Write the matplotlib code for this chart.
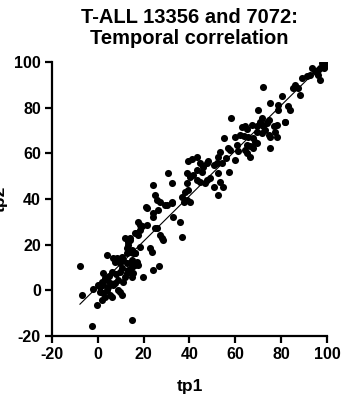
import numpy as np
import matplotlib
matplotlib.use("Agg")
import matplotlib.pyplot as plt

TITLE = "T-ALL 13356 and 7072:\nTemporal correlation"
X_LABEL = "tp1"
Y_LABEL = "tp2"
TICKS = [-20, 0, 20, 40, 60, 80, 100]

# points (tp1, tp2)
tp1 = [
    99.2, 97.7, 98.6, 97.0, 98.5, 96.3, 94.8, 93.4, 92.6, 96.3, 97.0, 91.2, 89.0, 86.1, 85.4,
    87.5, 88.3, 80.3, 83.2, 83.9, 81.7, 95.5, 99.0,
    72.3, 75.2, 78.8, 70.1, 78.8, 78.1, 75.2, 76.7, 73.7, 70.8, 72.3, 74.5, 71.5, 77.4, 78.1,
    75.2, 74.9, 73.0, 71.6, 81.8,
    69.4, 67.2, 64.3, 63.1, 65.0, 69.4, 65.7, 67.9, 68.6, 63.6, 62.1, 60.9, 65.0, 66.5, 69.4,
    67.9, 65.0, 66.5, 64.3, 61.1, 59.9, 59.9,
    58.2, 55.1, 57.0, 53.4, 52.6, 57.3, 51.9, 50.5, 52.6, 53.4, 50.5, 54.8, 52.6, 57.7, 54.1, 56.0,
    48.3, 47.5, 49.0, 46.8, 44.6, 43.2, 46.1, 45.4, 41.0, 43.2, 40.3, 41.7, 43.2, 44.6, 40.3, 47.5,
    39.5, 38.8, 30.8, 32.3, 38.8, 39.5, 38.1, 38.8, 36.6, 37.4, 32.3, 33.0, 35.9, 36.6, 32.3, 30.1,
    24.3, 25.0, 25.7, 27.2, 29.4, 21.3, 24.3, 24.3, 21.3, 25.0, 27.2, 27.9, 28.6, 22.8, 23.5,
    26.4, 21.1, 25.7, 24.3, 26.9,
    17.7, 18.4, 16.3, 17.7, 18.4, 11.9, 14.1, 13.3, 12.6, 14.1, 15.5, 18.4, 19.2, 17.0, 14.1,
    13.3, 14.8, 16.3, 11.2, 14.8, 17.0, 12.6, 14.8, 14.8, 19.6, 10.4, 12.6, 13.3, 14.8, 16.3,
    15.5, 14.1, 14.8, 17.7, 10.4, 12.6, 16.3, 11.2, 11.9, 10.4,
    9.0, 9.7, 7.5, 9.0, 9.7, 8.2, 7.5, 9.7, 9.0, 6.8, 3.9, 2.4, 3.1, 1.7, 3.9, 5.3, 2.4, 1.0,
    4.6, 6.8, 3.9, 1.0, 2.4, 1.7, 5.3, 3.1, 6.1, -0.5, -2.0, 0.2, 6.0, 8.0, 5.0,
    -7.8, -7.1, -2.7,
]
tp2 = [
    100.0, 99.5, 99.0, 97.3, 97.3, 96.5, 95.8, 97.3, 94.3, 94.3, 92.1, 93.6, 92.9, 90.0, 88.5,
    88.5, 85.6, 84.9, 80.5, 79.0, 73.9, 95.0, 98.0,
    89.2, 81.9, 81.2, 79.0, 79.0, 72.4, 67.3, 72.0, 73.4, 73.9, 72.0, 74.5, 75.5, 69.5, 67.3,
    62.2, 68.0, 70.2, 68.8, 73.9,
    72.0, 72.5, 72.0, 71.4, 70.5, 69.5, 67.3, 66.6, 65.1, 67.6, 68.0, 63.7, 63.7, 63.2, 64.4,
    62.2, 60.0, 58.5, 61.5, 61.2, 57.1, 67.3,
    75.3, 66.6, 62.2, 60.7, 58.5, 51.7, 55.6, 54.9, 51.2, 47.6, 45.4, 45.4, 41.8, 61.5, 55.6, 58.0,
    56.4, 48.3, 49.0, 46.9, 55.6, 52.7, 54.2, 52.0, 57.4, 58.5, 49.8, 50.5, 48.3, 47.6, 38.8, 55.6,
    56.8, 51.2, 51.2, 46.9, 46.9, 44.0, 43.2, 39.6, 41.0, 38.8, 38.8, 32.3, 30.1, 23.5, 38.4, 37.4,
    46.1, 41.8, 39.6, 38.8, 37.4, 35.9, 33.7, 32.3, 28.6, 27.2, 24.2, 22.8, 22.1, 18.4, 16.9,
    35.3, 36.3, 27.1, 8.9, 10.8,
    30.1, 28.6, 25.0, 24.2, 26.4, 22.8, 22.8, 21.3, 18.4, 16.9, 16.2, 19.1, 28.2, 25.0, 22.0,
    19.8, 17.7, 16.2, 13.3, 12.5, 12.5, 11.8, -13.0, 5.7, 5.7, 9.6, 7.4, 8.9, 10.4, 11.1,
    7.4, 11.8, 13.3, 11.1, 14.7, 16.2, 16.5, 3.8, 6.0, -2.1,
    0.1, -0.6, 3.1, 4.5, 8.2, 14.0, 12.5, 11.8, 13.6, 14.0, 15.5, 7.4, 5.2, 3.8, 4.5, 3.1, 2.3, 1.6,
    1.6, 2.3, 0.1, -0.6, -1.3, -4.2, -2.1, -2.8, -2.8, -6.4, 0.6, 2.3, 8.0, 7.0, 6.5,
    10.6, -2.1, -15.6,
]

plt.rcParams.update({
    "font.family": ["Liberation Sans", "DejaVu Sans"],
    "font.weight": "bold",
    "axes.unicode_minus": False,
})

fig = plt.figure(figsize=(3.42, 3.94), dpi=100)
ax = fig.add_axes([0.152, 0.147, 0.804, 0.696])

x = np.array(tp1)
y = np.array(tp2)
ax.scatter(x, y, s=26, color="black", linewidths=0, zorder=3)

# linear fit over the data range
k, b = np.polyfit(x, y, 1)
xs = np.array([x.min(), x.max()])
ax.plot(xs, k * xs + b, color="black", lw=0.8, zorder=2)

ax.set_xlim(-20, 100)
ax.set_ylim(-20, 100)
ax.set_xticks(TICKS)
ax.set_yticks(TICKS)
for sp in ["top", "right"]:
    ax.spines[sp].set_visible(False)
for sp in ["left", "bottom"]:
    ax.spines[sp].set_linewidth(1.6)
ax.tick_params(width=1.6, length=5, labelsize=11.5, pad=3)
for lab in ax.get_xticklabels() + ax.get_yticklabels():
    lab.set_fontweight("bold")

ax.set_xlabel(X_LABEL, fontsize=12.5, fontweight="bold", labelpad=12)
# y label sits partly outside the canvas, as in the original export
fig.text(0.0, 0.495, Y_LABEL, rotation=90, ha="center", va="center",
         fontsize=12.5, fontweight="bold")
ax.set_title(TITLE, fontsize=14.5, fontweight="bold", pad=13, linespacing=1.15)

fig.savefig("out.png", dpi=100)
